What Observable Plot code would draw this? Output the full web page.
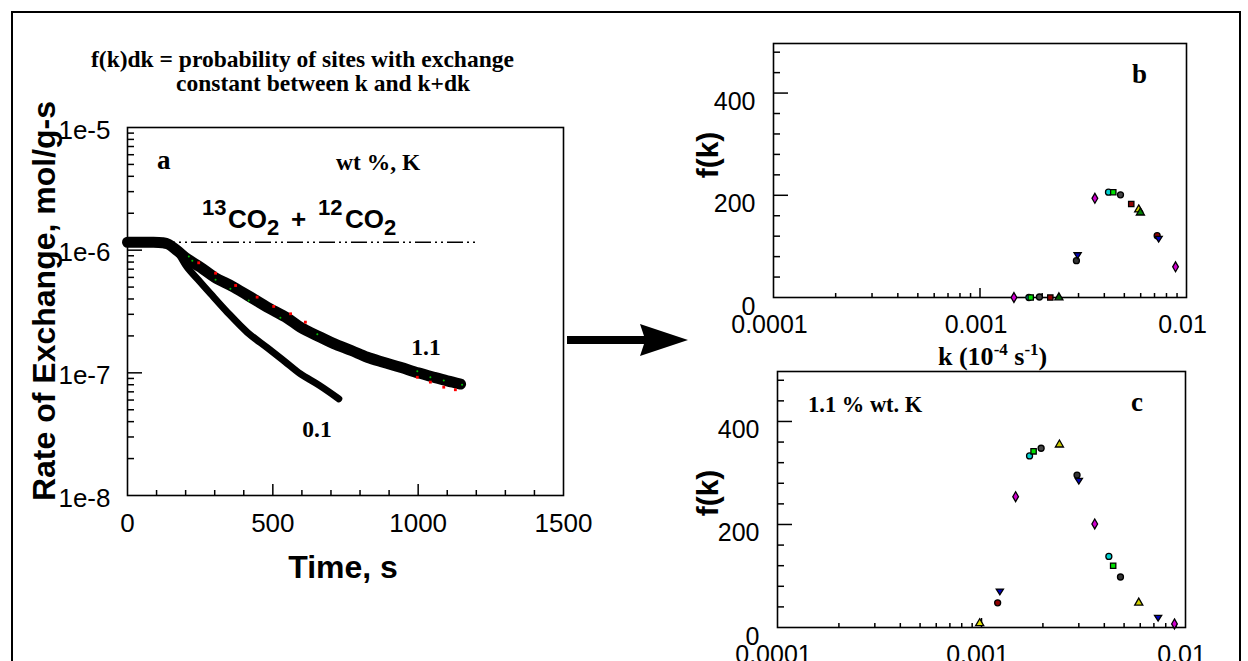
<!DOCTYPE html>
<html><head><meta charset="utf-8">
<script src="https://cdn.jsdelivr.net/npm/d3@7"></script>
<script src="https://cdn.jsdelivr.net/npm/@observablehq/plot@0.6"></script>
<style>
html,body{margin:0;padding:0;background:#fff;}
#wrap{position:relative;width:1248px;height:661px;overflow:hidden;background:#fff;}
#wrap > svg{position:absolute;}
.serif{font-family:"Liberation Serif","Times New Roman",serif;font-weight:bold;fill:#000;}
.sans{font-family:"Liberation Sans",Arial,sans-serif;font-weight:bold;fill:#000;}
</style></head><body><div id="wrap"></div>
<script>
// ---------- Panel a data (time s, rate mol/g-s) ----------
const time11 = [0, 40, 80, 120, 140, 171, 205, 251, 300, 366, 434, 481, 549, 595, 664, 710, 770, 825, 880, 939, 1000, 1054, 1100, 1146];
const rate11 = [1.16e-6, 1.16e-6, 1.16e-6, 1.15e-6, 1.12e-6, 9.9e-7, 8.5e-7, 7.26e-7, 6.0e-7, 4.99e-7, 4.0e-7, 3.43e-7, 2.8e-7, 2.35e-7, 1.95e-7, 1.73e-7, 1.52e-7, 1.34e-7, 1.22e-7, 1.11e-7, 1.0e-7, 9.2e-8, 8.6e-8, 8.1e-8];
const time01 = [0, 40, 80, 120, 140, 171, 205, 250, 286, 343, 412, 481, 540, 595, 660, 727];
const rate01 = [1.16e-6, 1.16e-6, 1.16e-6, 1.15e-6, 1.12e-6, 9.7e-7, 7.26e-7, 5.5e-7, 4.41e-7, 3.13e-7, 2.14e-7, 1.6e-7, 1.245e-7, 9.8e-8, 7.9e-8, 6.14e-8];
const redTime = [245, 303, 372, 446, 503, 561, 612, 997, 1042, 1088, 1128];
const redRate = [7.89e-7, 6.49e-7, 5.15e-7, 4.14e-7, 3.48e-7, 3.03e-7, 2.59e-7, 9.2e-8, 8.4e-8, 7.64e-8, 7.28e-8];
const greenTime = [211, 223, 303, 354, 417, 526, 653, 997, 1042, 1088, 1151];
const greenRate = [8.87e-7, 8.2e-7, 5.73e-7, 4.84e-7, 3.89e-7, 2.81e-7, 2.06e-7, 1.03e-7, 9.2e-8, 8.67e-8, 7.98e-8];
const flatLevel = [1.16e-6];
const flatEnd = 1203;
const xTickLabelsA = [0, 500, 1000, 1500];
const yTickLabelsA = [1e-5, 1e-6, 1e-7, 1e-8];

// ---------- Panel b data ----------
const kB = [0.00146, 0.001725, 0.00176, 0.00194, 0.00219, 0.00241, 0.00293, 0.00297, 0.0036, 0.00419, 0.00442, 0.00479, 0.0054, 0.00587, 0.00598, 0.00721, 0.00733, 0.00885];
const fB = [0, 0, 0, 1, 0, 0, 72, 83, 194, 206, 206, 201, 183, 172, 166, 121, 115, 60];
const shapeB = ["diamond","circle","square","circle","square","triangle","circle","down","diamond","circle","square","circle","square","triangle","triangle","circle","down","diamond"];
const colorB = ["#d000d0","#00d0d0","#00e000","#444","#900000","#006000","#333","#0000c0","#d000d0","#00d0d0","#00e000","#444","#900000","#d0d000","#008000","#900000","#0000c0","#d000d0"];

// ---------- Panel c data ----------
const kC = [0.00098, 0.0012, 0.00123, 0.00147, 0.00172, 0.0018, 0.00196, 0.00241, 0.00294, 0.003, 0.00359, 0.00421, 0.00442, 0.0048, 0.0059, 0.00734, 0.00883];
const fC = [8, 48, 70, 254, 333, 342, 348, 355, 296, 285, 201, 138, 120, 98, 48, 19, 7];
const shapeC = ["triangle","circle","down","diamond","circle","square","circle","triangle","circle","down","diamond","circle","square","circle","triangle","down","diamond"];
const colorC = ["#e0e000","#900000","#0000c0","#d000d0","#00d0d0","#00e000","#444","#c8c800","#333","#0000c0","#d000d0","#00d0d0","#00e000","#333","#d0d000","#0000c0","#d000d0"];

const kTickLabels = [0.0001, 0.001, 0.01];
const fTickLabels = [0, 200, 400];

// ---------- helpers ----------
const SANS = '"Liberation Sans", Arial, sans-serif';
const baseStyle = {background: "transparent", overflow: "visible", fontFamily: SANS, color: "black"};
const zip = (xs, ys) => xs.map((x, i) => ({x, y: ys[i]}));
const logMinor = (lo, hi) => { const out = []; for (let e = lo; e < hi; e++) for (let m = 2; m <= 9; m++) out.push(m * Math.pow(10, e)); return out; };
const fmtE = d => "1e" + Math.round(Math.log10(d));
const blank = () => "";
const triDown = {draw(ctx, size) { const r = Math.sqrt(size / Math.PI) * 1.2; ctx.moveTo(-r, -r * 0.65); ctx.lineTo(r, -r * 0.65); ctx.lineTo(0, r * 0.95); ctx.closePath(); }};
const symbolOf = {diamond: "diamond", circle: "circle", square: "square", triangle: "triangle", down: triDown};
// inward ticks: draw outward ticks and shift them into the frame
const inX = (vals, len) => Plot.axisX(vals, {anchor: "bottom", tickSize: len, dy: -len, tickFormat: blank, label: null, strokeWidth: 1.5});
const inY = (vals, len) => Plot.axisY(vals, {anchor: "left", tickSize: len, dx: len, tickFormat: blank, label: null, strokeWidth: 1.5});

const wrap = document.getElementById("wrap");
function place(el, left, top) { el.style.position = "absolute"; el.style.left = left + "px"; el.style.top = top + "px"; wrap.appendChild(el); }

// ---------- Panel a ----------
const plotA = Plot.plot({
  width: 600, height: 560,
  marginLeft: 127, marginTop: 127, marginRight: 37, marginBottom: 65,
  style: baseStyle,
  x: {domain: [0, 1500], axis: null},
  y: {type: "log", domain: [1e-8, 1e-5], axis: null},
  marks: [
    Plot.ruleY(flatLevel, {x1: 0, x2: flatEnd, stroke: "black", strokeWidth: 1.6, strokeDasharray: "16 4 2 4 2 4"}),
    Plot.line(zip(time01, rate01), {x: "x", y: "y", stroke: "black", strokeWidth: 7, strokeLinecap: "round", strokeLinejoin: "round", curve: "catmull-rom"}),
    Plot.line(zip(time11, rate11), {x: "x", y: "y", stroke: "black", strokeWidth: 11, strokeLinecap: "round", strokeLinejoin: "round", curve: "catmull-rom"}),
    Plot.dot(zip(redTime, redRate), {x: "x", y: "y", symbol: "square", r: 1.6, fill: "#ff0000"}),
    Plot.dot(zip(greenTime, greenRate), {x: "x", y: "y", r: 1, fill: "#00c000"}),
    Plot.frame({stroke: "black", strokeWidth: 1.6}),
    inX(d3.range(100, 1500, 100).filter(v => v % 500 !== 0), 5),
    inX([500, 1000], 11),
    Plot.axisX(xTickLabelsA, {anchor: "bottom", tickSize: 0, tickPadding: 18, fontSize: 26, tickFormat: d => String(d), label: null}),
    inY(logMinor(-8, -5), 7),
    inY([1e-6, 1e-7], 15),
    Plot.axisY(yTickLabelsA, {anchor: "left", tickSize: 0, tickPadding: 17, tickFormat: fmtE, fontSize: 26, dy: 3, label: null})
  ]
});
place(plotA, 0, 0);

// ---------- Panels b and c ----------
function kPanel(ks, fs, shapes, colors, w, h, m) {
  const rows = ks.map((k, i) => ({k, f: fs[i], shape: shapes[i], color: colors[i]}));
  const dots = Object.keys(symbolOf).map(s => Plot.dot(rows.filter(d => d.shape === s), {x: "k", y: "f", symbol: symbolOf[s], fill: "color", stroke: "black", strokeWidth: 1.3, r: 3}));
  return Plot.plot({
    width: w, height: h,
    marginLeft: m[0], marginTop: m[1], marginRight: m[2], marginBottom: m[3],
    style: baseStyle,
    color: {type: "identity"},
    x: {type: "log", domain: [1e-4, 1e-2], axis: null},
    y: {domain: [0, 497], axis: null},
    marks: [
      Plot.frame({stroke: "black", strokeWidth: 1.6}),
      inX(logMinor(-4, -2), 4),
      inX([0.001], 9),
      Plot.axisX(kTickLabels, {anchor: "bottom", tickSize: 0, tickPadding: 18, fontSize: 25, dx: -4, tickFormat: d => String(d), label: null}),
      inY(d3.range(40, 497, 40).filter(v => v !== 200 && v !== 400), 7),
      inY([200, 400], 15),
      Plot.axisY(fTickLabels, {anchor: "left", tickSize: 0, tickPadding: 18, fontSize: 25, dy: 9, label: null}),
      ...dots
    ]
  });
}
place(kPanel(kB, fB, shapeB, colorB, 540, 300, [83, 13, 44, 33]), 690, 30);
place(kPanel(kC, fC, shapeC, colorC, 540, 331, [87, 41, 45, 34]), 690, 330);

// ---------- Overlay: border, arrow, titles ----------
const NS = "http://www.w3.org/2000/svg";
const ov = document.createElementNS(NS, "svg");
ov.setAttribute("width", 1248); ov.setAttribute("height", 661);
ov.style.left = "0px"; ov.style.top = "0px"; ov.style.pointerEvents = "none";
ov.innerHTML = `
<rect x="12" y="12" width="1228" height="700" fill="none" stroke="#000" stroke-width="2"/>
<polygon points="567,336 644,336 640,324 688,340 640,356 644,344 567,344" fill="#000"/>
<text class="serif" x="91" y="67" font-size="23.5">f(k)dk = probability of sites with exchange</text>
<text class="serif" x="176" y="91" font-size="23.5">constant between k and k+dk</text>
<text class="serif" x="157" y="169" font-size="27">a</text>
<text class="serif" x="336" y="170" font-size="23.5">wt %, K</text>
<text class="sans"><tspan x="202" y="215" font-size="22">13</tspan><tspan x="228" y="228" font-size="26">CO</tspan><tspan x="267" y="235" font-size="22">2</tspan><tspan x="291" y="228" font-size="26">+</tspan><tspan x="318" y="215" font-size="22">12</tspan><tspan x="345" y="228" font-size="26">CO</tspan><tspan x="384" y="235" font-size="22">2</tspan></text>
<text class="serif" x="426" y="355" font-size="23.5" text-anchor="middle">1.1</text>
<text class="serif" x="317" y="437" font-size="23.5" text-anchor="middle">0.1</text>
<text class="sans" font-size="32" text-anchor="middle" transform="translate(55,301) rotate(-90)">Rate of Exchange, mol/g-s</text>
<text class="sans" x="343" y="578" font-size="32" text-anchor="middle">Time, s</text>
<text class="serif" x="1132" y="83" font-size="27">b</text>
<text class="serif" x="1131" y="411" font-size="27">c</text>
<text class="serif" x="808" y="412" font-size="22.5">1.1 % wt. K</text>
<text class="serif" x="938" y="365" font-size="26" style="white-space:pre">k (10<tspan font-size="17" dy="-10">-4</tspan><tspan dy="10"> s</tspan><tspan font-size="17" dy="-10">-1</tspan><tspan dy="10">)</tspan></text>
<text class="sans" font-size="30" text-anchor="middle" transform="translate(718,155) rotate(-90)">f(k)</text>
<text class="sans" font-size="30" text-anchor="middle" transform="translate(718,493) rotate(-90)">f(k)</text>
`;
wrap.appendChild(ov);
</script>
</body></html>
